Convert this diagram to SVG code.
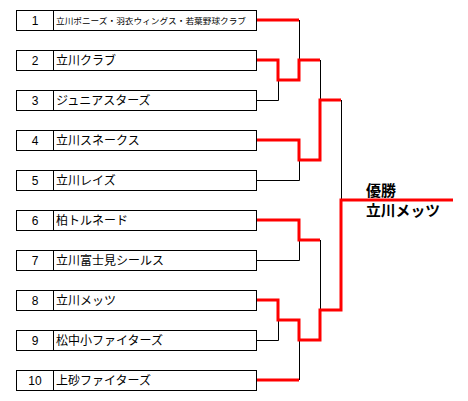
<svg xmlns="http://www.w3.org/2000/svg" width="468" height="401" viewBox="0 0 468 401">
<style>
.box{fill:#fff;stroke:#000;stroke-width:1}
.num{font-family:"Liberation Sans",Arial,sans-serif;font-size:12px;fill:#000;text-anchor:middle}
.name{font-family:"Noto Sans CJK JP","Noto Sans",sans-serif;font-size:12px;fill:#000}
.small{font-size:8.5px}
.blk{fill:none;stroke:#000;stroke-width:1}
.red{fill:none;stroke:#ff0000;stroke-width:3;stroke-linejoin:miter}
.win{font-family:"Noto Sans CJK JP",sans-serif;font-size:15px;font-weight:bold;fill:#000}
</style>
<rect width="468" height="401" fill="#fff"/>
<g id="node1"><rect class="box" x="16.5" y="10.5" width="240" height="20"/><line class="blk" x1="53.5" y1="10.5" x2="53.5" y2="30.5"/><text class="num" x="35" y="25">1</text><text class="name small" x="56" y="24" textLength="190" lengthAdjust="spacingAndGlyphs">立川ポニーズ・羽衣ウィングス・若葉野球クラブ</text></g>
<g id="node2"><rect class="box" x="16.5" y="50.5" width="240" height="20"/><line class="blk" x1="53.5" y1="50.5" x2="53.5" y2="70.5"/><text class="num" x="35" y="65">2</text><text class="name" x="56" y="65">立川クラブ</text></g>
<g id="node3"><rect class="box" x="16.5" y="90.5" width="240" height="20"/><line class="blk" x1="53.5" y1="90.5" x2="53.5" y2="110.5"/><text class="num" x="35" y="105">3</text><text class="name" x="56" y="105">ジュニアスターズ</text></g>
<g id="node4"><rect class="box" x="16.5" y="130.5" width="240" height="20"/><line class="blk" x1="53.5" y1="130.5" x2="53.5" y2="150.5"/><text class="num" x="35" y="145">4</text><text class="name" x="56" y="145">立川スネークス</text></g>
<g id="node5"><rect class="box" x="16.5" y="170.5" width="240" height="20"/><line class="blk" x1="53.5" y1="170.5" x2="53.5" y2="190.5"/><text class="num" x="35" y="185">5</text><text class="name" x="56" y="185">立川レイズ</text></g>
<g id="node6"><rect class="box" x="16.5" y="210.5" width="240" height="20"/><line class="blk" x1="53.5" y1="210.5" x2="53.5" y2="230.5"/><text class="num" x="35" y="225">6</text><text class="name" x="56" y="225">柏トルネード</text></g>
<g id="node7"><rect class="box" x="16.5" y="250.5" width="240" height="20"/><line class="blk" x1="53.5" y1="250.5" x2="53.5" y2="270.5"/><text class="num" x="35" y="265">7</text><text class="name" x="56" y="265">立川富士見シールス</text></g>
<g id="node8"><rect class="box" x="16.5" y="290.5" width="240" height="20"/><line class="blk" x1="53.5" y1="290.5" x2="53.5" y2="310.5"/><text class="num" x="35" y="305">8</text><text class="name" x="56" y="305">立川メッツ</text></g>
<g id="node9"><rect class="box" x="16.5" y="330.5" width="240" height="20"/><line class="blk" x1="53.5" y1="330.5" x2="53.5" y2="350.5"/><text class="num" x="35" y="345">9</text><text class="name" x="56" y="345">松中小ファイターズ</text></g>
<g id="node10"><rect class="box" x="16.5" y="370.5" width="240" height="20"/><line class="blk" x1="53.5" y1="370.5" x2="53.5" y2="390.5"/><text class="num" x="35" y="385">10</text><text class="name" x="56" y="385">上砂ファイターズ</text></g>
<g id="connectors">
<polyline class="blk" points="257,100.5 278.5,100.5 278.5,80"/>
<polyline class="blk" points="299.5,20 299.5,60"/>
<polyline class="blk" points="320.5,60 320.5,100"/>
<polyline class="blk" points="257,180.5 299.5,180.5 299.5,160"/>
<polyline class="blk" points="341.5,100 341.5,200"/>
<polyline class="blk" points="257,260.5 299.5,260.5 299.5,240"/>
<polyline class="blk" points="320.5,240 320.5,310"/>
<polyline class="blk" points="257,340.5 278.5,340.5 278.5,320"/>
<polyline class="blk" points="299.5,380 299.5,340"/>
<polyline class="red" points="257,20 299,20"/>
<polyline class="red" points="257,60 278,60 278,80 299,80 299,60 320,60"/>
<polyline class="red" points="257,140 299,140 299,160 320,160 320,100 341,100"/>
<polyline class="red" points="257,220 299,220 299,240 320,240"/>
<polyline class="red" points="257,300 278,300 278,320 299,320 299,340 320,340 320,310 341,310 341,200 453,200"/>
<polyline class="red" points="257,380 299,380"/>
</g>
<g id="winner"><text class="win" x="366" y="196">優勝</text><text class="win" x="366" y="216" textLength="74" lengthAdjust="spacingAndGlyphs">立川メッツ</text></g>
</svg>
